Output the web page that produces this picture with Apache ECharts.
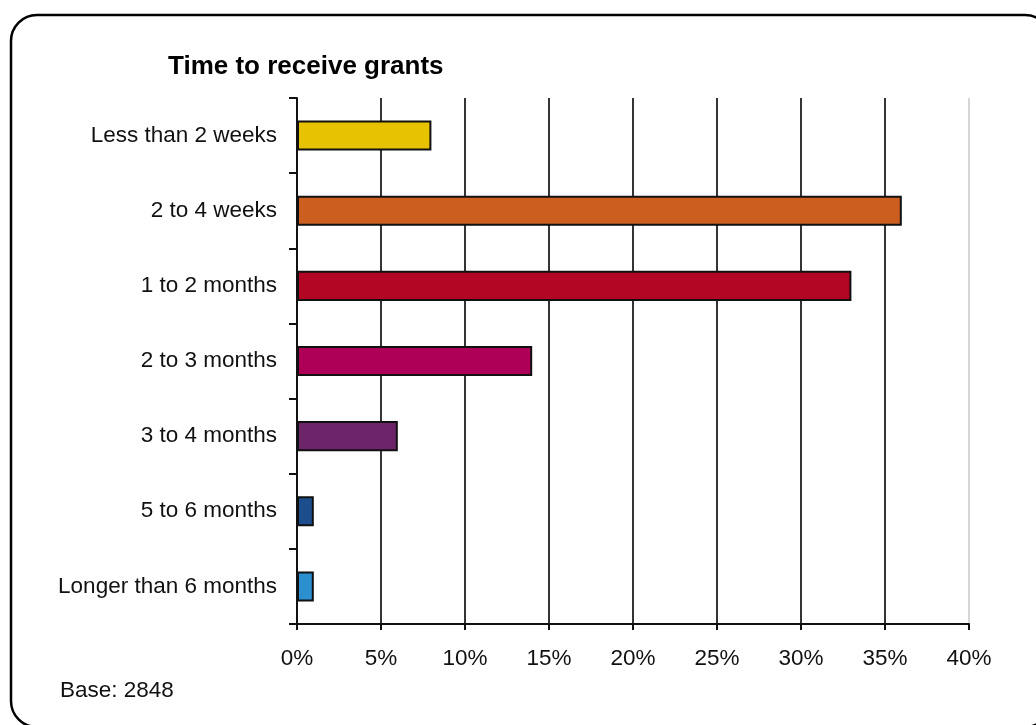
<!DOCTYPE html>
<html>
<head>
<meta charset="utf-8">
<script src="https://cdn.jsdelivr.net/npm/echarts@6/dist/echarts.min.js"></script>
<style>
html,body{margin:0;padding:0;background:#fff;}
#chart{width:1036px;height:725px;}
</style>
</head>
<body>
<div id="chart"></div>
<script>
var categories = ['Less than 2 weeks','2 to 4 weeks','1 to 2 months','2 to 3 months','3 to 4 months','5 to 6 months','Longer than 6 months'];
var values = [8, 36, 33, 14, 6, 1, 1];
var barColors = ['#E6C200','#CC5F20','#B30524','#AF0058','#6E2468','#1C4E8E','#2C8FD0'];
var xTicks = [0, 5, 10, 15, 20, 25, 30, 35, 40];
var titleText = 'Time to receive grants';
var baseText = 'Base: 2848';

var chart = echarts.init(document.getElementById('chart'), null, {renderer:'canvas'});
var font = 'Liberation Sans, Arial, sans-serif';
var gridColors = xTicks.map(function(t, i){ return i === xTicks.length - 1 ? '#cfcfcf' : '#111'; });

chart.setOption({
  animation: false,
  backgroundColor: '#fff',
  textStyle: {fontFamily: font},
  grid: {left: 297, right: 67, top: 98, bottom: 101, containLabel: false},
  xAxis: {
    type: 'value', min: 0, max: 40, interval: 5,
    axisLine: {show: true, lineStyle: {color: '#111', width: 2}},
    axisTick: {show: true, length: 6, lineStyle: {color: '#111', width: 2}},
    axisLabel: {color: '#111', fontSize: 22.5, fontFamily: font, margin: 23,
      formatter: function(v){ return v + '%'; }},
    splitLine: {show: true, lineStyle: {color: gridColors, width: 1.7}}
  },
  yAxis: {
    type: 'category', data: categories, inverse: true,
    axisLine: {show: true, lineStyle: {color: '#111', width: 2}},
    axisTick: {show: true, length: 8, alignWithLabel: false, lineStyle: {color: '#111', width: 2}},
    axisLabel: {color: '#111', fontSize: 22.5, fontFamily: font, margin: 20}
  },
  series: [{
    type: 'bar',
    data: values.map(function(v, i){ return {value: v, itemStyle: {color: barColors[i]}}; }),
    barWidth: '40%',
    itemStyle: {borderColor: '#111', borderWidth: 2}
  }],
  graphic: [
    {type: 'rect', shape: {x: 11, y: 15, width: 1040, height: 712, r: 26}, style: {fill: 'none', stroke: '#000', lineWidth: 2.5}, z: 100},
    {type: 'text', x: 168, y: 67, style: {text: titleText, font: 'bold 26px ' + font, fill: '#000', verticalAlign: 'middle', align: 'left'}},
    {type: 'text', x: 60, y: 691, style: {text: baseText, font: '22.5px ' + font, fill: '#111', verticalAlign: 'middle', align: 'left'}}
  ]
});
</script>
</body>
</html>
